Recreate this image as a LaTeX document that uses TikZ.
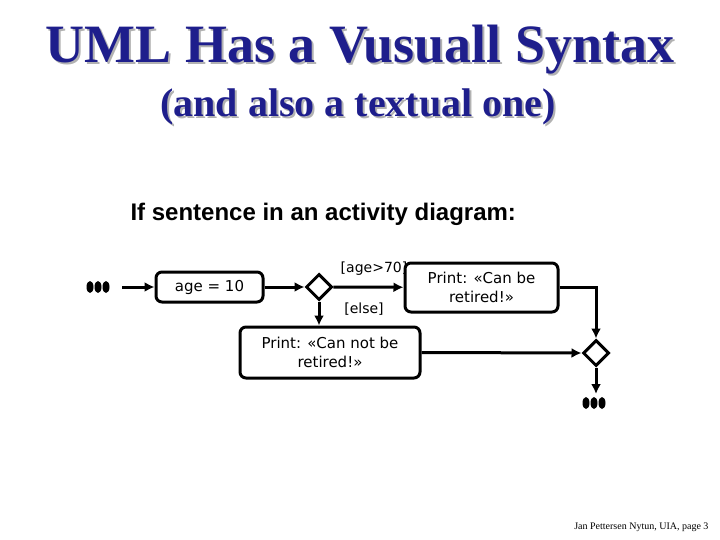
\documentclass[tikz,border=0pt]{standalone}
\usepackage{fontspec}
\setmainfont{Liberation Serif}
\newfontfamily\dvs{DejaVu Sans}
\newfontfamily\las{Liberation Sans}
\usetikzlibrary{arrows.meta,shapes.geometric}
\definecolor{titleblue}{RGB}{30,30,140}
\begin{document}
\begin{tikzpicture}[x=1pt,y=-1pt,
  act/.style={draw,line width=3pt,rounded corners=6pt,align=center,font=\dvs\fontsize{15}{19}\selectfont,inner sep=0pt},
  dec/.style={draw,diamond,line width=3pt,minimum size=26pt,inner sep=0pt},
  flow/.style={line width=3pt,-{Latex[length=10pt,width=10pt]}},
  lbl/.style={font=\dvs\fontsize{14}{18}\selectfont},
  dot/.style={fill,ellipse,minimum width=7pt,minimum height=12pt,inner sep=0pt}]
\useasboundingbox (0,0) rectangle (720,540);
\node[text=gray!60] (tsh) at (362,52) {\bfseries\fontsize{54}{60}\selectfont UML Has a Vusuall Syntax};
\node[text=titleblue] (t) at (360,50) {\bfseries\fontsize{54}{60}\selectfont UML Has a Vusuall Syntax};
\node[text=gray!60] (ssh) at (360,109) {\bfseries\fontsize{40}{44}\selectfont (and also a textual one)};
\node[text=titleblue] (s) at (358,107) {\bfseries\fontsize{40}{44}\selectfont (and also a textual one)};
\node[anchor=west,font=\las\bfseries\fontsize{24}{28}\selectfont] (h) at (127,214) {If sentence in an activity diagram:};
% start dots
\node[dot] (d1) at (90,287) {};\node[dot] (d2) at (98,287) {};\node[dot] (d3) at (106,287) {};
\coordinate (s0) at (122,287);
\node[act,minimum width=107pt,minimum height=30pt] (a) at (209.5,287) {age = 10};
\node[dec] (c1) at (319,287) {};
\node[act,minimum width=153pt,minimum height=49pt] (b) at (481.5,287.5) {Print: «Can be\\retired!»};
\node[act,minimum width=180pt,minimum height=51pt] (e) at (330,352.5) {Print: «Can not be\\retired!»};
\node[dec] (c2) at (596,353) {};
\node[dot] (f1) at (586,403) {};\node[dot] (f2) at (594,403) {};\node[dot] (f3) at (602,403) {};
\coordinate (fe) at (596,394);
\node[lbl] (l1) at (374,269) {[age>70]};
\node[lbl] (l2) at (364,309) {[else]};
\draw[flow] (s0) -- (a);
\draw[flow] (a) -- (c1);
\draw[flow] (c1) -- (b);
\draw[flow] (c1.south) -- (c1.south |- e.north);
\draw[flow] (e.east) -- (c2.west);
\draw[flow] (b.east) -| (c2.north);
\draw[flow] (c2.south) -- (fe);
\node[anchor=east,font=\fontsize{10}{11}\selectfont] (ft) at (712,527) {Jan Pettersen Nytun, UIA, page 3};
\end{tikzpicture}
\end{document}
